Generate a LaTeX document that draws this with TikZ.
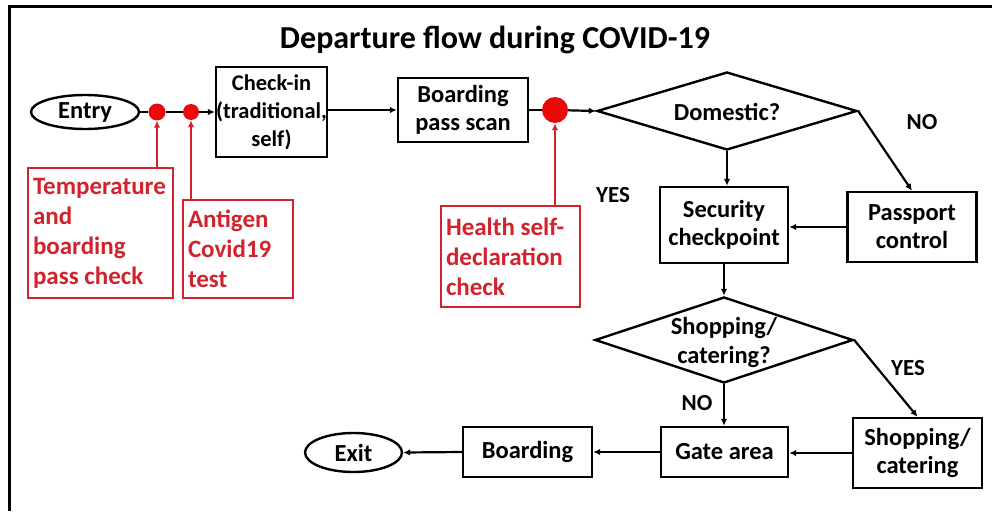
\documentclass[tikz,border=0pt]{standalone}
\usepackage{fontspec}
\setmainfont{Carlito}
\usetikzlibrary{shapes.geometric,arrows.meta}
\definecolor{cred}{RGB}{210,35,45}
\definecolor{dred}{RGB}{235,10,10}
\begin{document}
\begin{tikzpicture}[x=1pt,y=-1pt,
  box/.style={draw,line width=2.4pt,inner sep=0pt,align=center,font=\fontsize{24.5}{28}\selectfont\bfseries},
  oval/.style={draw,ellipse,line width=2.4pt,inner sep=0pt,font=\fontsize{24.5}{28}\selectfont\bfseries},
  diam/.style={draw,diamond,line width=2.4pt,inner sep=0pt},
  dtext/.style={align=center,font=\fontsize{24.5}{29}\selectfont\bfseries},
  rbox/.style={draw=cred,line width=2.4pt,inner ysep=0pt,inner xsep=5pt,align=flush left,text=cred,font=\fontsize{25}{30}\selectfont\bfseries},
  dot/.style={circle,fill=dred,inner sep=0pt},
  lbl/.style={font=\fontsize{23}{26}\selectfont\bfseries},
  arr/.style={line width=2.2pt,-{Latex[length=7pt,width=6.5pt]}},
  ln/.style={line width=2.2pt},
  rarr/.style={draw=cred,line width=2.4pt,-{Latex[length=7pt,width=6.5pt]}}]
\useasboundingbox (0,0) rectangle (992,511);
\fill[white] (0,0) rectangle (992,511);
\draw[line width=3pt] (9,511) -- (9,7) -- (992,7);

\node[font=\fontsize{32}{36}\selectfont\bfseries] (title) at (495,40) {Departure flow during COVID-19};

\node[oval,minimum width=108,minimum height=34] (entry) at (85,112) {Entry};
\node[dot,minimum size=17] (d1) at (157,112) {};
\node[dot,minimum size=16] (d2) at (191,112) {};
\node[box,minimum width=111,minimum height=90,font=\fontsize{22.5}{28}\selectfont\bfseries] (checkin) at (271.5,112) {Check-in\\(traditional,\\self)};
\node[box,minimum width=130,minimum height=64] (bps) at (463,110) {Boarding\\pass scan};
\node[dot,minimum size=26] (d3) at (555,110) {};
\node[diam,minimum width=260,minimum height=78] (dom) at (727,111) {};
\node[dtext] (domt) at (727,112) {Domestic?};
\node[box,minimum width=128,minimum height=76] (sec) at (724,225) {Security\\checkpoint};
\node[box,minimum width=129,minimum height=70] (pass) at (912,227) {Passport\\control};
\node[diam,minimum width=258,minimum height=86] (shd) at (724,340) {};
\node[dtext] (shdt) at (724,342) {Shopping/\\catering?};
\node[box,minimum width=127,minimum height=50] (gate) at (724.5,452) {Gate area};
\node[box,minimum width=129,minimum height=70] (shb) at (917.5,453) {Shopping/\\catering};
\node[box,minimum width=129,minimum height=50] (board) at (527.5,452) {Boarding};
\node[oval,minimum width=97,minimum height=39] (exit) at (353.5,452.5) {Exit};

\node[rbox,text width=135,minimum height=130] (tbox) at (100.5,233) {Temperature\\and\\boarding\\pass check};
\node[rbox,text width=100,minimum height=98] (abox) at (238,249) {Antigen\\Covid19\\test};
\node[rbox,text width=129,minimum height=101] (hbox) at (510.5,256.5) {Health self-\\declaration\\check};

\node[lbl] (no1) at (922,122) {NO};
\node[lbl] (yes1) at (613,195) {YES};
\node[lbl] (yes2) at (908,368) {YES};
\node[lbl] (no2) at (697,403) {NO};

\draw[ln] (entry) -- (d1);
\draw[ln] (d1) -- (d2);
\draw[arr] (d2) -- (checkin.west |- d2);
\draw[arr] (checkin.east |- bps) -- (bps.west);
\draw[ln] (bps) -- (d3);
\draw[arr] (d3) -- (dom.west);
\draw[arr] (dom.south) -- (sec.north -| dom.south);
\draw[arr] (dom.east) -- (pass.north);
\draw[arr] (pass.west) -- (sec.east |- pass.west);
\draw[arr] (sec.south -| shd.north) -- (shd.north);
\draw[arr] (shd.south) -- (gate.north -| shd.south);
\draw[arr] (shd.east) -- (shb.north);
\draw[arr] (shb.west) -- (gate.east |- shb.west);
\draw[arr] (gate.west) -- (board.east);
\draw[arr] (board.west) -- (exit.east);

\draw[rarr] (tbox.north -| d1) -- (d1);
\draw[rarr] (abox.north -| d2) -- (d2);
\draw[rarr] (hbox.north -| d3) -- (d3);
\end{tikzpicture}
\end{document}
